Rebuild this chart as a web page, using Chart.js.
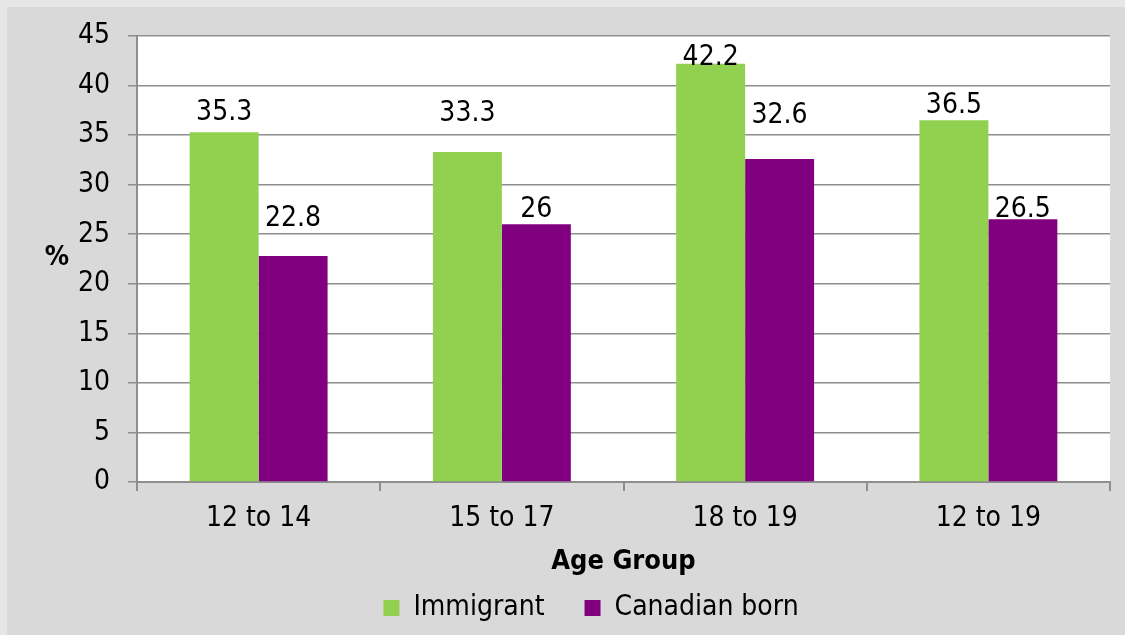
<!DOCTYPE html>
<html>
<head>
<meta charset="utf-8">
<script src="https://cdn.jsdelivr.net/npm/chart.js@4.4.1/dist/chart.umd.min.js"></script>
<style>
  html, body { margin: 0; padding: 0; background: #e6e6e6; }
  #wrap { position: absolute; left: 7px; top: 7px; width: 1118px; height: 628px; background: #d9d9d9; }
</style>
</head>
<body>
<div id="wrap"><canvas id="chart" width="1118" height="628"></canvas></div>
<script>
const ageGroups = ['12 to 14', '15 to 17', '18 to 19', '12 to 19'];
const immigrant = [35.3, 33.3, 42.2, 36.5];
const canadianBorn = [22.8, 26, 32.6, 26.5];
const seriesNames = ['Immigrant', 'Canadian born'];
const yMin = 0;
const yMax = 45;
const yStep = 5;

const FONT = '"Liberation Sans Narrow", "DejaVu Sans Condensed", "Arial Narrow", sans-serif';
const GRID = '#8e8e8e';
// how far each value label sits above its bar (px), the labels were hand placed in the original
const labelLift = [
  [22, 41, 9, 18],
  [40, 18, 46, 13],
];

// white plot area on the grey chart background
const plotBackground = {
  id: 'plotBackground',
  beforeDraw(chart) {
    const { ctx, chartArea } = chart;
    ctx.save();
    ctx.fillStyle = '#fff';
    ctx.fillRect(chartArea.left, chartArea.top, chartArea.width, chartArea.height);
    ctx.restore();
  },
};

// value labels above each bar
const valueLabels = {
  id: 'valueLabels',
  afterDatasetsDraw(chart) {
    const { ctx } = chart;
    ctx.save();
    ctx.font = `28px ${FONT}`;
    ctx.fillStyle = '#000';
    ctx.textAlign = 'center';
    ctx.textBaseline = 'middle';
    chart.data.datasets.forEach((ds, i) => {
      chart.getDatasetMeta(i).data.forEach((bar, j) => {
        const lift = (labelLift[i] && labelLift[i][j]) || 20;
        ctx.fillText(String(ds.data[j]), bar.x, bar.y - lift + 3);
      });
    });
    ctx.restore();
  },
};

// "%" axis title, drawn upright
const yTitle = {
  id: 'yTitle',
  afterDraw(chart) {
    const { ctx, chartArea } = chart;
    ctx.save();
    ctx.font = `bold 27px ${FONT}`;
    ctx.fillStyle = '#000';
    ctx.textAlign = 'center';
    ctx.textBaseline = 'middle';
    ctx.fillText('%', 50, (chartArea.top + chartArea.bottom) / 2 - 1);
    ctx.restore();
  },
};

new Chart(document.getElementById('chart'), {
  type: 'bar',
  data: {
    labels: ageGroups,
    datasets: [
      { label: seriesNames[0], data: immigrant, backgroundColor: '#92d050' },
      { label: seriesNames[1], data: canadianBorn, backgroundColor: '#800080' },
    ],
  },
  options: {
    responsive: false,
    animation: false,
    devicePixelRatio: 1,
    layout: { padding: { top: 29, left: 65, right: 15, bottom: 3 } },
    datasets: { bar: { barPercentage: 1, categoryPercentage: 0.567 } },
    plugins: {
      tooltip: { enabled: false },
      legend: {
        position: 'bottom',
        labels: {
          color: '#000',
          font: { family: FONT, size: 28 },
          boxWidth: 16,
          boxHeight: 16,
          padding: 40,
        },
      },
    },
    scales: {
      x: {
        afterFit: (scale) => { scale.height = 72; },
        grid: { drawOnChartArea: false, drawTicks: true, tickLength: 9, color: GRID, lineWidth: 2, offset: true },
        border: { color: GRID, width: 2 },
        ticks: { color: '#000', font: { family: FONT, size: 28 }, padding: 11 },
        title: {
          display: true,
          text: 'Age Group',
          color: '#000',
          font: { family: FONT, size: 27, weight: 'bold' },
          padding: { top: 4, bottom: -24 },
        },
      },
      y: {
        min: yMin,
        max: yMax,
        afterFit: (scale) => {
          scale.width = 65;
          scale.paddingTop = 0;
          scale.paddingBottom = 0;
        },
        grid: { color: GRID, lineWidth: 1.5, tickLength: 9 },
        border: { color: GRID, width: 2 },
        ticks: { stepSize: yStep, color: '#000', font: { family: FONT, size: 28 }, padding: 18 },
      },
    },
  },
  plugins: [plotBackground, valueLabels, yTitle],
});
</script>
</body>
</html>
